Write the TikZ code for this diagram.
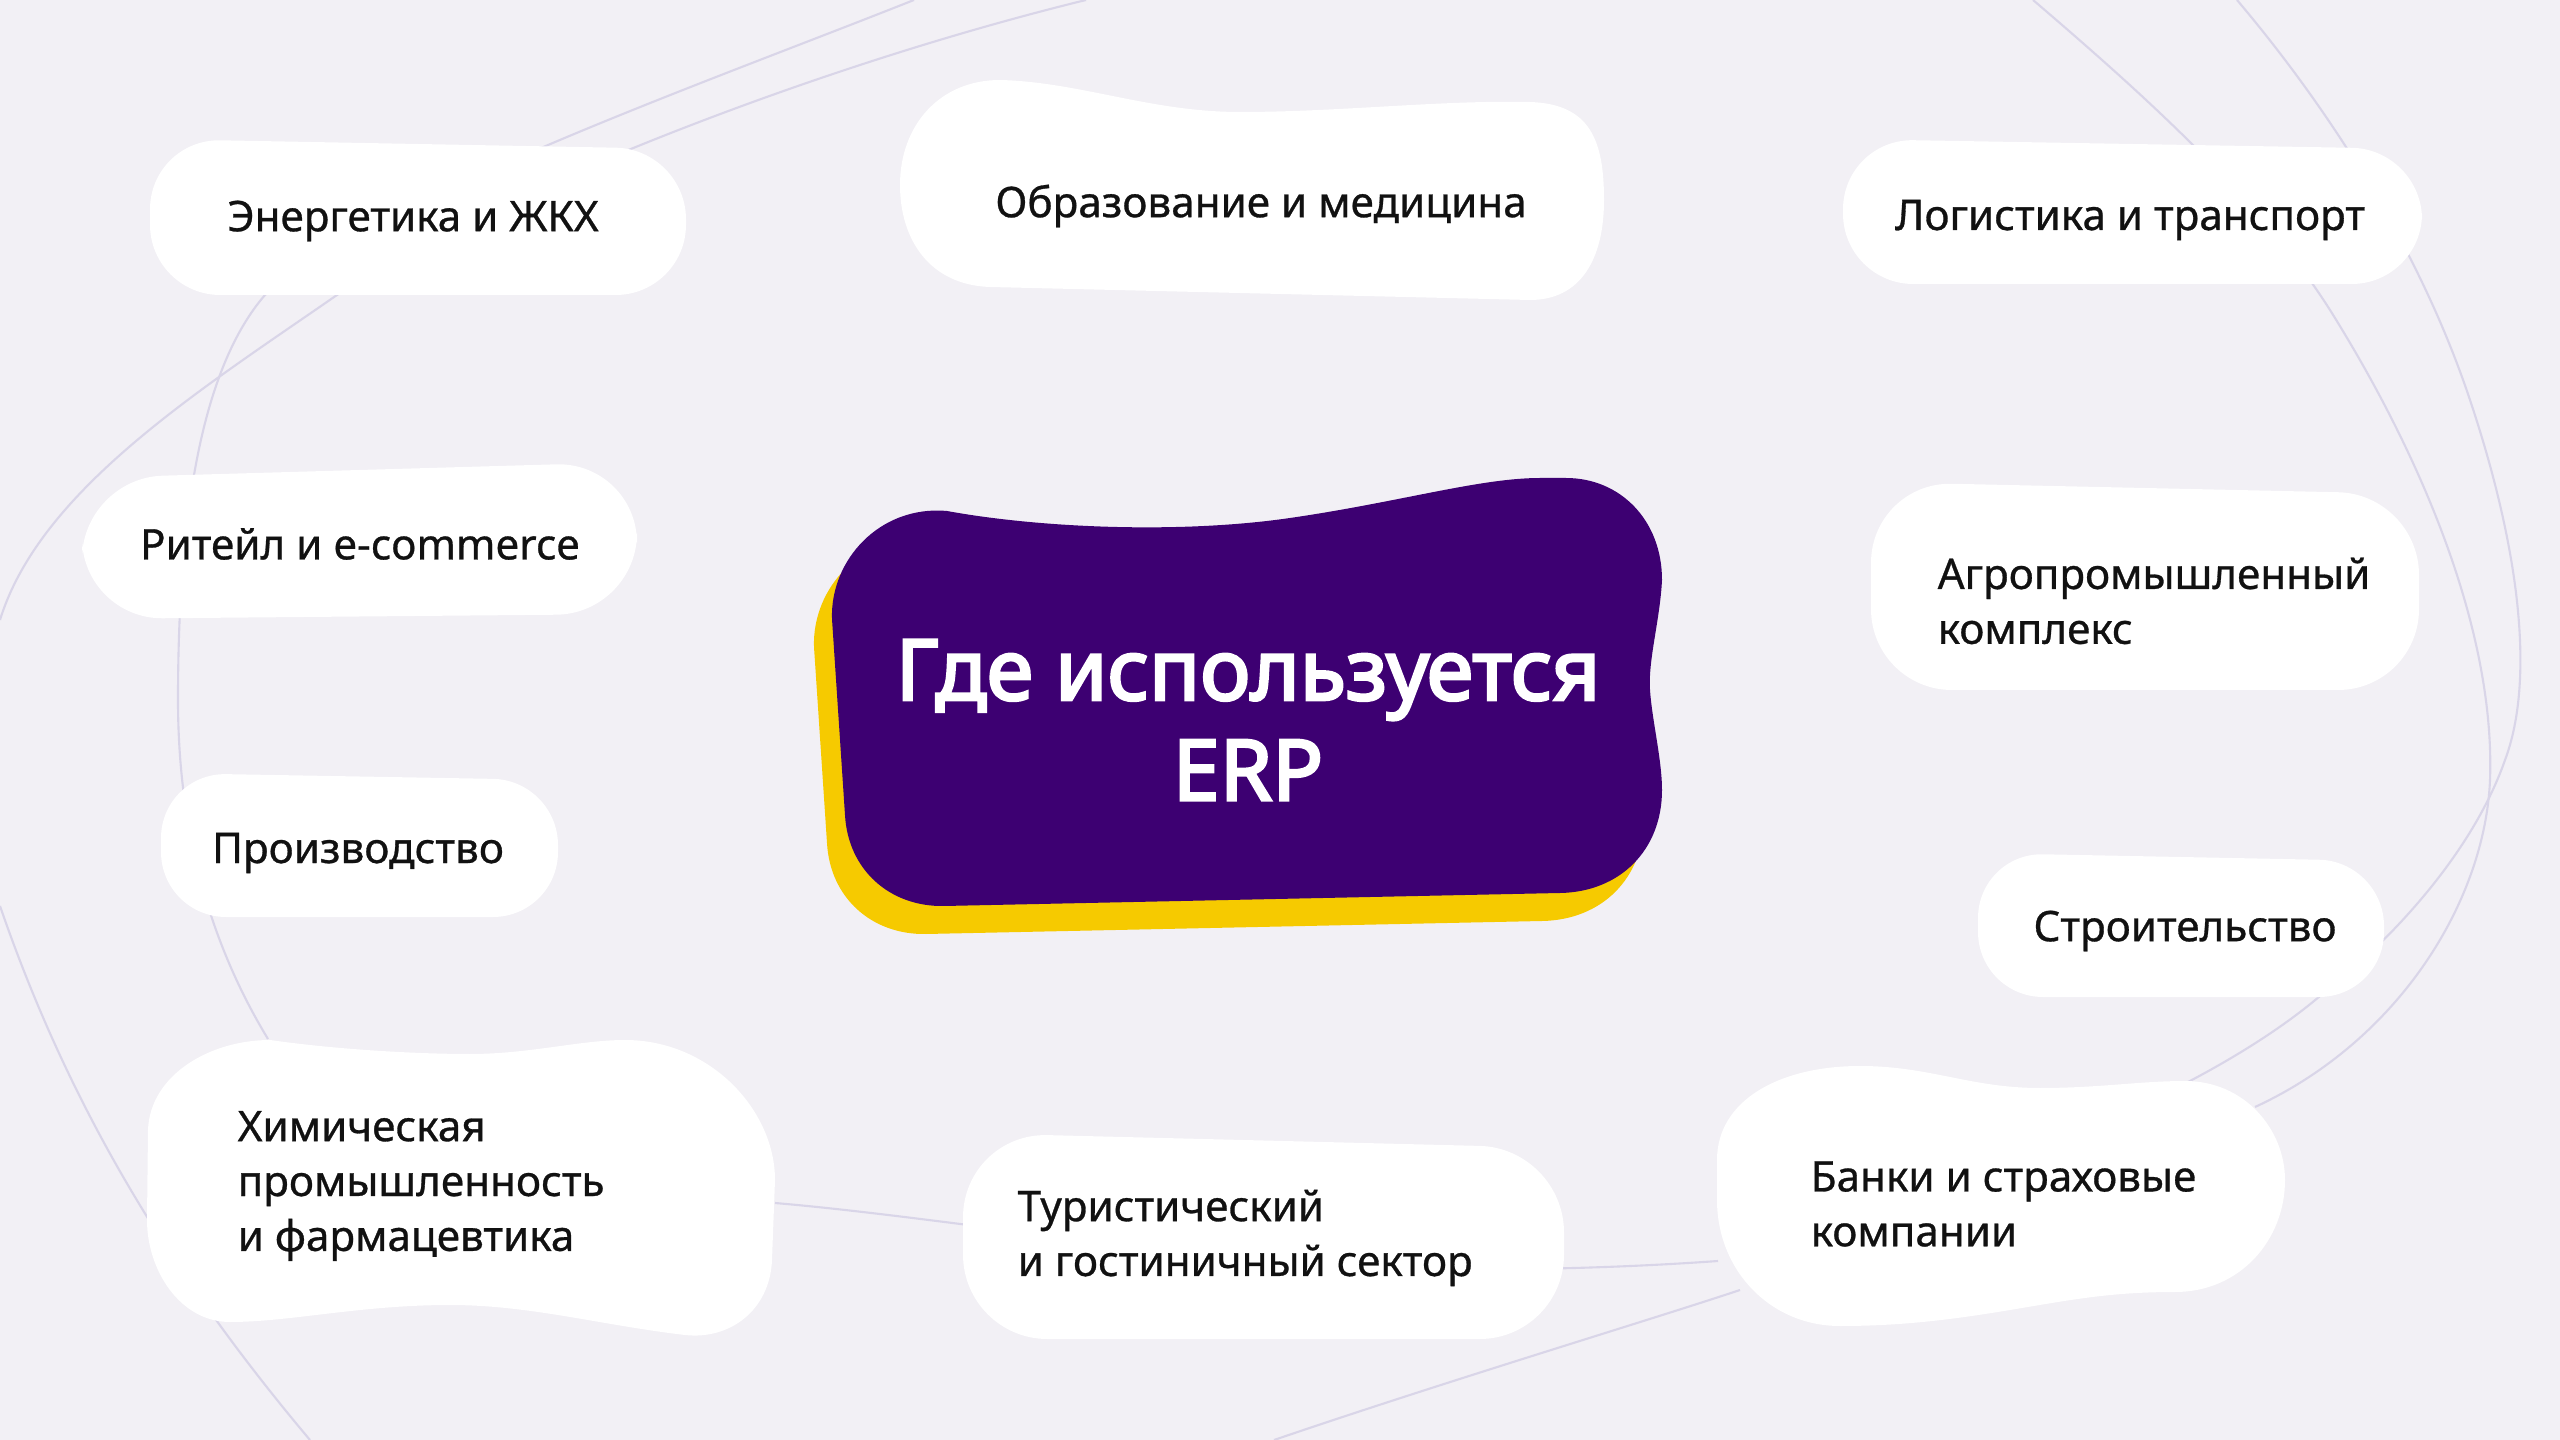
\documentclass[tikz,border=0pt]{standalone}
\usepackage{fontspec}
\setmainfont{Noto Sans}
\newfontfamily\lblfont[FakeBold=0.7]{Noto Sans}
\newfontfamily\erpfont[FakeBold=3.2]{Noto Sans}
\definecolor{bgcol}{HTML}{F2F0F5}
\definecolor{linecol}{HTML}{D9D5E8}
\definecolor{erppurple}{HTML}{3D0072}
\definecolor{erpyellow}{HTML}{F6CA00}
\definecolor{labelcol}{HTML}{111111}
\tikzset{
  bgline/.style={draw=linecol, line width=0.6pt},
  blob/.style={fill=white},
  lbl/.style={font=\lblfont\fontsize{12}{15.6}\selectfont, text=labelcol, inner sep=0pt},
  titletext/.style={font=\erpfont\fontsize{24}{28.5}\selectfont, text=white, align=center, inner sep=0pt}
}
\newcommand{\erpblob}{(947,511) .. controls (1040,528) and (1180,534) .. (1290,518)
  .. controls (1400,502) and (1480,478) .. (1540,478) -- (1566,478)
  .. controls (1620,478) and (1662,520) .. (1662,580)
  .. controls (1660,620) and (1648,660) .. (1650,690)
  .. controls (1652,720) and (1662,760) .. (1662,790)
  .. controls (1662,850) and (1620,892) .. (1560,893) -- (944,906)
  .. controls (890,907) and (848,870) .. (845,815) -- (832,619)
  .. controls (830,560) and (880,505) .. (947,511) -- cycle}
\begin{document}
\begin{tikzpicture}[x=0.01cm, y=-0.01cm]
\fill[bgcol] (0,0) rectangle (2560,1440);
\useasboundingbox (0,0) rectangle (2560,1440);
\clip (0,0) rectangle (2560,1440);
% background lines
\draw[bgline] (914,0) .. controls (700,85) and (400,190) .. (265,295) .. controls (200,370) and (178,520) .. (178,700) .. controls (178,850) and (220,960) .. (268,1039);
\draw[bgline] (1086,0) .. controls (800,70) and (480,200) .. (337,295) .. controls (200,390) and (40,490) .. (0,620);
\draw[bgline] (0,906) .. controls (60,1080) and (150,1250) .. (310,1440);
\draw[bgline] (775,1203) .. controls (880,1212) and (1000,1230) .. (1260,1262) .. controls (1450,1275) and (1620,1268) .. (1718,1261);
\draw[bgline] (1274,1440) .. controls (1450,1380) and (1650,1320) .. (1740,1290);
\draw[bgline] (2033,0) .. controls (2150,100) and (2260,200) .. (2330,310) .. controls (2430,470) and (2495,640) .. (2490,780) .. controls (2485,900) and (2400,1040) .. (2255,1107);
\draw[bgline] (2237,0) .. controls (2330,110) and (2420,250) .. (2470,400) .. controls (2520,550) and (2535,680) .. (2505,760) .. controls (2470,860) and (2380,950) .. (2320,996) .. controls (2280,1030) and (2230,1060) .. (2188,1082);
% center
\fill[erpyellow, shift={(-18,28)}] \erpblob;
\fill[erppurple] \erpblob;
\node[titletext] (erp) at (1248,720) {Где используется\\ERP};
% white blobs
\fill[blob, rounded corners=20pt] (150,139) -- (686,149) -- (686,295) -- (150,295) -- cycle;
\fill[blob] (1000,80) .. controls (1080,82) and (1150,112) .. (1240,112) .. controls (1340,112) and (1440,100) .. (1530,102) .. controls (1590,104) and (1604,140) .. (1604,200) .. controls (1604,260) and (1580,300) .. (1530,300) -- (990,287) .. controls (930,285) and (900,240) .. (900,185) .. controls (900,125) and (940,80) .. (1000,80) -- cycle;
\fill[blob, rounded corners=20pt] (1843,139) -- (2422,149) -- (2422,284) -- (1843,284) -- cycle;
\fill[blob, rounded corners=23pt] (82,478) -- (637,462) -- (637,614) -- (82,619) -- cycle;
\fill[blob, rounded corners=23pt] (1871,482) -- (2419,494) -- (2419,690) -- (1871,690) -- cycle;
\fill[blob, rounded corners=18.5pt] (161,773) -- (558,780) -- (558,917) -- (161,917) -- cycle;
\fill[blob, rounded corners=18.5pt] (1978,853) -- (2384,861) -- (2384,997) -- (1978,997) -- cycle;
\fill[blob] (270,1040) .. controls (340,1050) and (420,1054) .. (470,1054) .. controls (530,1054) and (580,1040) .. (625,1040) .. controls (710,1040) and (775,1110) .. (775,1180) -- (772,1260) .. controls (770,1310) and (730,1340) .. (685,1335) .. controls (600,1325) and (530,1305) .. (450,1305) .. controls (360,1305) and (290,1322) .. (230,1322) .. controls (180,1322) and (147,1270) .. (147,1220) -- (148,1130) .. controls (150,1075) and (210,1040) .. (270,1040) -- cycle;
\fill[blob, rounded corners=24pt] (963,1133) -- (1564,1148) -- (1564,1339) -- (963,1339) -- cycle;
\fill[blob] (1860,1066) .. controls (1930,1066) and (1970,1088) .. (2040,1088) .. controls (2100,1088) and (2140,1081) .. (2185,1081) .. controls (2245,1081) and (2285,1130) .. (2285,1180) .. controls (2285,1240) and (2240,1292) .. (2175,1292) .. controls (2110,1292) and (2070,1300) .. (2010,1310) .. controls (1950,1320) and (1900,1326) .. (1840,1326) .. controls (1770,1326) and (1717,1270) .. (1717,1200) -- (1717,1160) .. controls (1717,1100) and (1780,1066) .. (1860,1066) -- cycle;
% labels
\node[lbl] (energy) at (413,221) {Энергетика и ЖКХ};
\node[lbl] (edu) at (1261,206) {Образование и медицина};
\node[lbl] (logist) at (2130,220) {Логистика и транспорт};
\node[lbl] (retail) at (360,544) {Ритейл и e-commerce};
\node[lbl, anchor=west, align=left] (agro) at (1937,601) {Агропромышленный\\комплекс};
\node[lbl] (prod) at (358,853) {Производство};
\node[lbl] (build) at (2185,931) {Строительство};
\node[lbl, anchor=west, align=left] (chem) at (237,1186) {Химическая\\промышленность\\и фармацевтика};
\node[lbl, anchor=west, align=left] (tour) at (1017,1238) {Туристический\\и гостиничный сектор};
\node[lbl, anchor=west, align=left] (bank) at (1810,1204) {Банки и страховые\\компании};
\end{tikzpicture}
\end{document}
